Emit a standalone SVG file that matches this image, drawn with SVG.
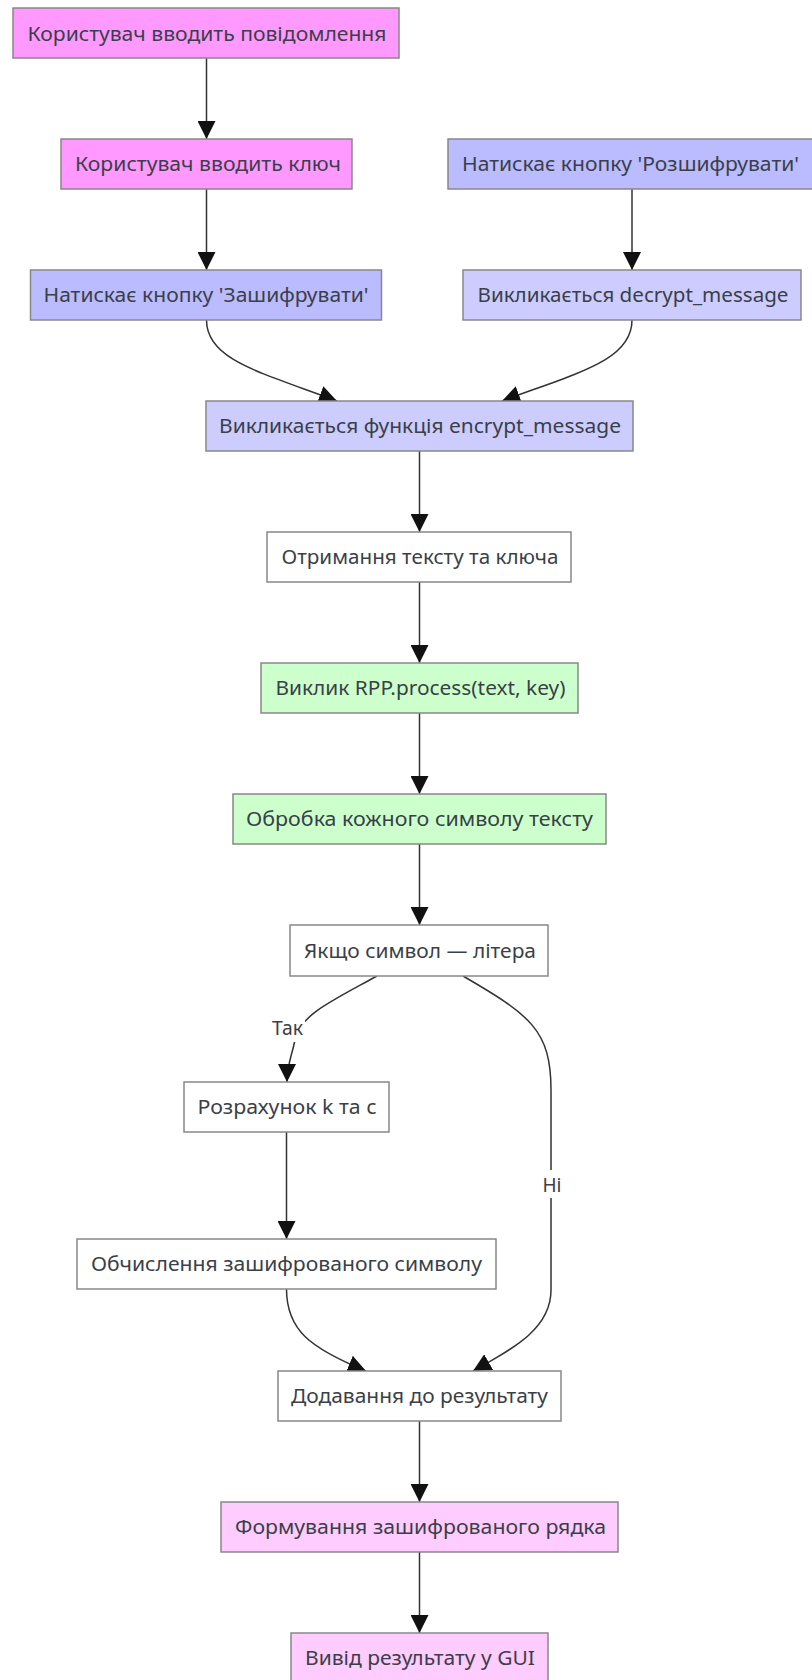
<svg xmlns="http://www.w3.org/2000/svg" width="812" height="1680" viewBox="0 0 812 1680">
<style>
.n rect{stroke:#888;stroke-width:1.5}
.n text,.lbl text{font-family:"Noto Sans","DejaVu Sans",sans-serif;font-size:19px;fill:#3a3f48;text-anchor:middle}
.e path{fill:none;stroke:#333;stroke-width:1.5}
.pink{fill:#ff99ff}.lpink{fill:#ffccff}.blue{fill:#bbbbff}.lblue{fill:#ccccff}.green{fill:#ccffcc}.white{fill:#ffffff}
</style>
<defs>
<marker id="arr" viewBox="0 0 10 10" refX="10" refY="5" markerUnits="userSpaceOnUse" markerWidth="18" markerHeight="18" orient="auto">
<path d="M0,0 L10,5 L0,10 z" fill="#111"/>
</marker>
</defs>
<rect width="812" height="1680" fill="#ffffff"/>
<g id="connectors" class="e">
<path d="M206.5,58 L206.5,139" marker-end="url(#arr)"/>
<path d="M206.5,189 L206.5,270" marker-end="url(#arr)"/>
<path d="M632,189 L632,270" marker-end="url(#arr)"/>
<path d="M206.5,320 C206.5,360 260,372 337,401" marker-end="url(#arr)"/>
<path d="M632,320 C632,360 580,372 502,401" marker-end="url(#arr)"/>
<path d="M419.5,451 L419.5,532" marker-end="url(#arr)"/>
<path d="M419.5,582 L419.5,663" marker-end="url(#arr)"/>
<path d="M419.5,713 L419.5,794" marker-end="url(#arr)"/>
<path d="M419.5,844 L419.5,925" marker-end="url(#arr)"/>
<path d="M377,976 C330,1002 300,1015 295,1040 C292,1055 287,1065 287,1082" marker-end="url(#arr)"/>
<path d="M463,976 C530,1015 551,1030 551,1090 L551,1290 C551,1330 510,1350 473,1371" marker-end="url(#arr)"/>
<path d="M286.5,1132 L286.5,1239" marker-end="url(#arr)"/>
<path d="M286.5,1289 C286.5,1330 310,1348 366,1371" marker-end="url(#arr)"/>
<path d="M419.5,1421 L419.5,1502" marker-end="url(#arr)"/>
<path d="M419.5,1552 L419.5,1633" marker-end="url(#arr)"/>
</g>
<g id="labels" class="lbl">
<g id="label-tak"><rect x="270" y="1015" width="35" height="27" fill="#ffffff"/><text x="287.5" y="1035" textLength="31" lengthAdjust="spacingAndGlyphs">Так</text></g>
<g id="label-ni"><rect x="540" y="1170" width="24" height="28" fill="#ffffff"/><text x="552" y="1191.5" textLength="19" lengthAdjust="spacingAndGlyphs">Ні</text></g>
</g>
<g id="n1" class="n"><rect class="pink" x="13" y="8" width="386" height="50"/><text x="207" y="40.5" textLength="359" lengthAdjust="spacingAndGlyphs">Користувач вводить повідомлення</text></g>
<g id="n2" class="n"><rect class="pink" x="61" y="139" width="291" height="50"/><text x="208" y="171" textLength="266" lengthAdjust="spacingAndGlyphs">Користувач вводить ключ</text></g>
<g id="n3" class="n"><rect class="blue" x="30.5" y="270" width="351" height="50"/><text x="206" y="302" textLength="325" lengthAdjust="spacingAndGlyphs">Натискає кнопку 'Зашифрувати'</text></g>
<g id="n4" class="n"><rect class="blue" x="448" y="139" width="368" height="50"/><text x="630.5" y="171" textLength="337" lengthAdjust="spacingAndGlyphs">Натискає кнопку 'Розшифрувати'</text></g>
<g id="n5" class="n"><rect class="lblue" x="463" y="270" width="338" height="50"/><text x="633" y="302" textLength="311" lengthAdjust="spacingAndGlyphs">Викликається decrypt_message</text></g>
<g id="n6" class="n"><rect class="lblue" x="206" y="401" width="427" height="50"/><text x="420" y="433" textLength="402" lengthAdjust="spacingAndGlyphs">Викликається функція encrypt_message</text></g>
<g id="n7" class="n"><rect class="white" x="267" y="532" width="304" height="50"/><text x="420" y="564" textLength="277" lengthAdjust="spacingAndGlyphs">Отримання тексту та ключа</text></g>
<g id="n8" class="n"><rect class="green" x="261" y="663" width="317" height="50"/><text x="420.5" y="695" textLength="290" lengthAdjust="spacingAndGlyphs">Виклик RPP.process(text, key)</text></g>
<g id="n9" class="n"><rect class="green" x="233" y="794" width="373" height="50"/><text x="419.5" y="826" textLength="347" lengthAdjust="spacingAndGlyphs">Обробка кожного символу тексту</text></g>
<g id="n10" class="n"><rect class="white" x="290" y="925" width="258" height="51"/><text x="420" y="957.5" textLength="232" lengthAdjust="spacingAndGlyphs">Якщо символ — літера</text></g>
<g id="n11" class="n"><rect class="white" x="184" y="1082" width="205" height="50"/><text x="287" y="1114" textLength="179" lengthAdjust="spacingAndGlyphs">Розрахунок k та c</text></g>
<g id="n12" class="n"><rect class="white" x="77" y="1239" width="419" height="50"/><text x="286.5" y="1271" textLength="391" lengthAdjust="spacingAndGlyphs">Обчислення зашифрованого символу</text></g>
<g id="n13" class="n"><rect class="white" x="278" y="1371" width="283" height="50"/><text x="419.5" y="1403" textLength="257" lengthAdjust="spacingAndGlyphs">Додавання до результату</text></g>
<g id="n14" class="n"><rect class="lpink" x="221" y="1502" width="397" height="50"/><text x="420.5" y="1534" textLength="371" lengthAdjust="spacingAndGlyphs">Формування зашифрованого рядка</text></g>
<g id="n15" class="n"><rect class="lpink" x="291" y="1633" width="257" height="50"/><text x="420" y="1665" textLength="230" lengthAdjust="spacingAndGlyphs">Вивід результату у GUI</text></g>
</svg>
